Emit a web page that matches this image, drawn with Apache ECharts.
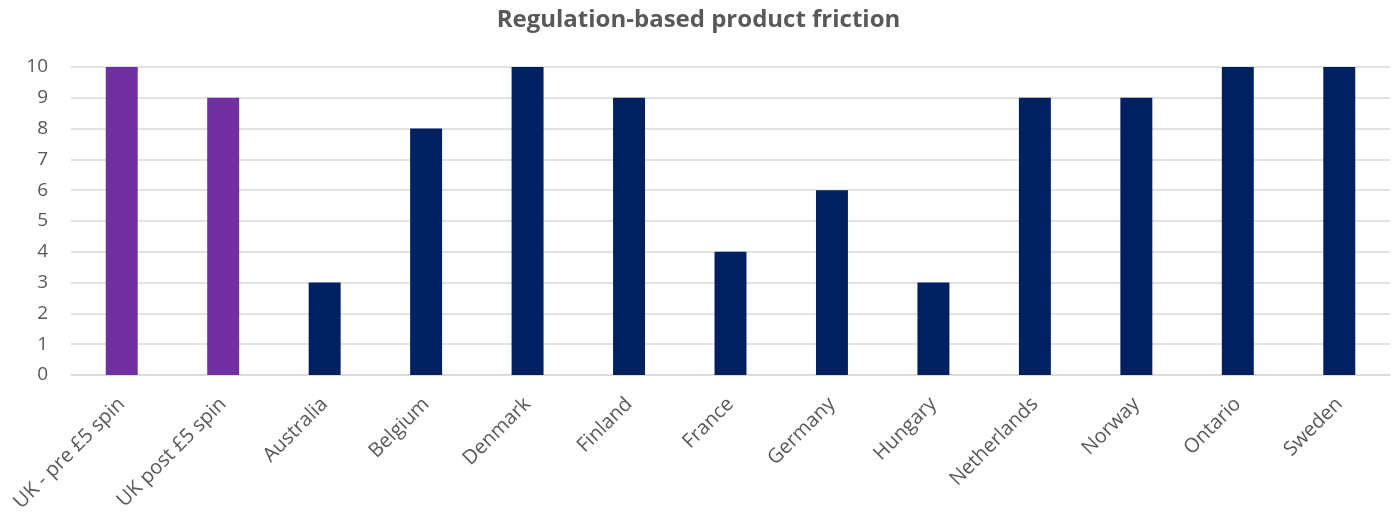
<!DOCTYPE html>
<html><head><meta charset="utf-8">
<script src="https://cdn.jsdelivr.net/npm/echarts@6/dist/echarts.min.js"></script>
<style>html,body{margin:0;padding:0;background:#fff}#c{width:1397px;height:517px}</style>
</head><body><div id="c"></div>
<script>
const categories = ["UK - pre £5 spin","UK post £5 spin","Australia","Belgium","Denmark","Finland","France","Germany","Hungary","Netherlands","Norway","Ontario","Sweden"];
const values = [10,9,3,8,10,9,4,6,3,9,9,10,10];
const highlighted = [true,true,false,false,false,false,false,false,false,false,false,false,false];
const yTicks = [0,1,2,3,4,5,6,7,8,9,10];

const chart = echarts.init(document.getElementById('c'));
chart.setOption({
  animation:false,
  title:{text:"Regulation-based product friction",left:'center',top:3,
    textStyle:{fontFamily:'Open Sans',fontSize:24,fontWeight:'bold',color:'#595959'}},
  grid:{left:71,right:7,top:67,bottom:142},
  xAxis:{type:'category',data:categories,
    axisLine:{show:true,lineStyle:{color:'#D9D9D9',width:1.5}},axisTick:{show:false},
    axisLabel:{rotate:45,interval:0,margin:26,fontFamily:'Open Sans',fontSize:20,color:'#595959'}},
  yAxis:{type:'value',min:0,max:10,interval:1,
    axisLine:{show:false},axisTick:{show:false},
    splitLine:{lineStyle:{color:'#D9D9D9',width:1.5}},
    axisLabel:{margin:23,fontFamily:'Open Sans',fontSize:19,color:'#595959',
      formatter:v=>yTicks.includes(v)?String(v):''}},
  series:[{type:'bar',barWidth:'31.5%',
    data:values.map((v,i)=>({value:v,itemStyle:{color:highlighted[i]?'#7030A0':'#002060'}}))}]
});
</script></body></html>
